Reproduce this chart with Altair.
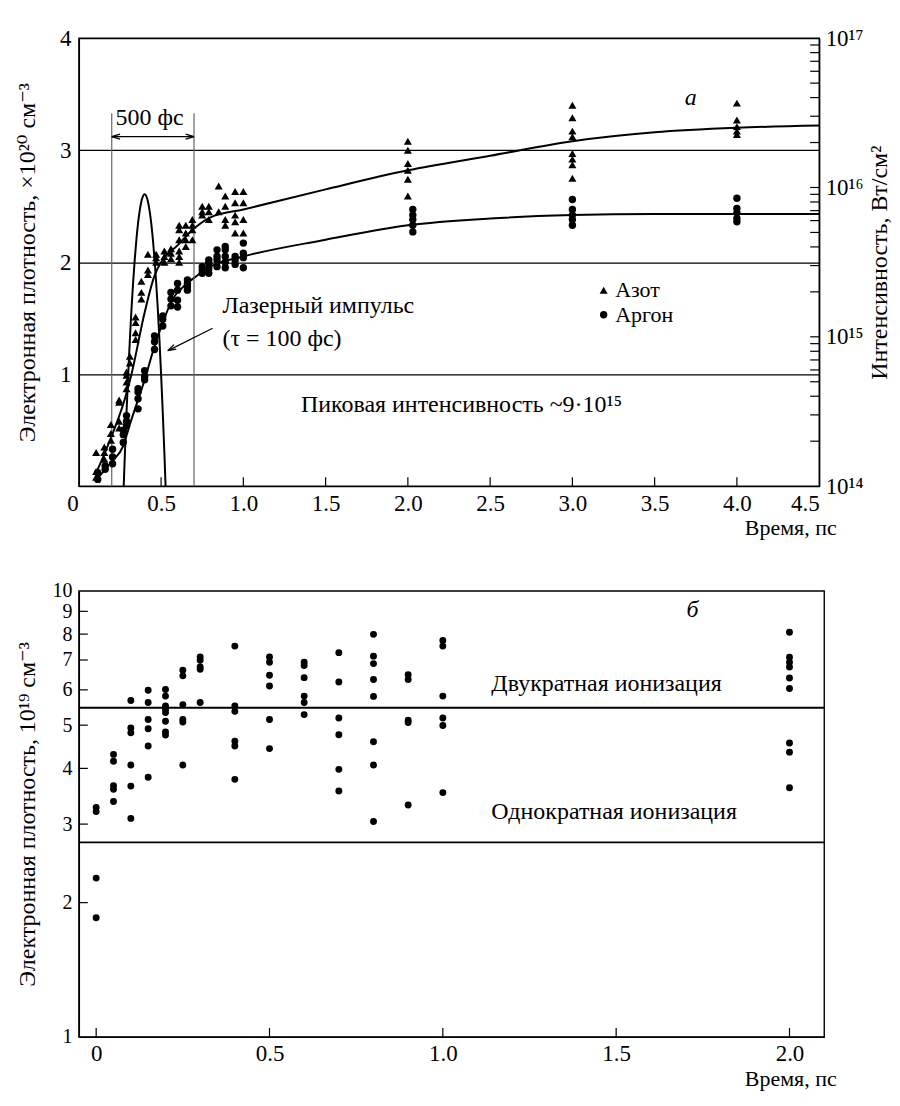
import altair as alt
import pandas as pd

FONT = "Liberation Serif, DejaVu Serif"
LBL = 23      # tick label size
TTL = 22      # x axis title size
YTTL = 24     # y axis title size
TXT = 24      # in-plot text size

# ---------------- Panel a (top) ----------------
# Nitrogen (triangles): time, ps / electron density, 1e20 cm^-3
n2_t = [0.105, 0.105, 0.105, 0.155, 0.155, 0.155, 0.195, 0.195, 0.195,
        0.245, 0.245, 0.245, 0.245, 0.29, 0.29, 0.29, 0.29, 0.31, 0.31,
        0.345, 0.345, 0.345, 0.345, 0.38, 0.38, 0.38, 0.42, 0.42, 0.42,
        0.47, 0.47, 0.47, 0.52, 0.52, 0.52, 0.56, 0.56, 0.56,
        0.61, 0.61, 0.61, 0.61, 0.61, 0.61, 0.65, 0.65, 0.65, 0.65,
        0.69, 0.69, 0.69, 0.69, 0.75, 0.75, 0.75, 0.79, 0.79, 0.79,
        0.85, 0.85, 0.89, 0.89, 0.89, 0.89, 0.95, 0.95, 0.95, 0.95, 0.95,
        1.0, 1.0, 1.0, 1.0,
        2.0, 2.0, 2.0, 2.0, 2.0, 2.0,
        3.0, 3.0, 3.0, 3.0, 3.0, 3.0, 3.0, 3.0,
        4.0, 4.0, 4.0, 4.0, 4.0]
n2_v = [0.08, 0.13, 0.30, 0.24, 0.30, 0.35, 0.41, 0.47, 0.55,
        0.52, 0.58, 0.75, 0.77, 0.87, 0.93, 0.99, 1.02, 1.10, 1.16,
        1.31, 1.37, 1.46, 1.51, 1.67, 1.73, 1.83, 1.89, 1.93, 2.07,
        2.00, 2.04, 2.07, 2.00, 2.05, 2.10, 2.03, 2.08, 2.12,
        2.00, 2.05, 2.10, 2.20, 2.29, 2.33, 2.14, 2.20, 2.26, 2.33,
        2.20, 2.29, 2.33, 2.38, 2.42, 2.45, 2.50, 2.38, 2.45, 2.50,
        2.45, 2.68, 2.33, 2.38, 2.50, 2.59, 2.26, 2.36, 2.42, 2.53, 2.63,
        2.26, 2.38, 2.53, 2.63,
        2.59, 2.74, 2.82, 2.88, 3.00, 3.08,
        2.75, 2.87, 2.92, 2.97, 3.12, 3.17, 3.29, 3.40,
        3.14, 3.17, 3.21, 3.27, 3.42]

# Argon (circles)
ar_t = [0.115, 0.115, 0.16, 0.16, 0.205, 0.205, 0.205, 0.27, 0.27, 0.27,
        0.29, 0.29, 0.29, 0.36, 0.36, 0.36, 0.36, 0.40, 0.40, 0.40,
        0.46, 0.46, 0.46, 0.51, 0.51, 0.51, 0.56, 0.56, 0.56,
        0.60, 0.60, 0.60, 0.60, 0.66, 0.66, 0.66, 0.66, 0.75, 0.75, 0.75,
        0.79, 0.79, 0.79, 0.79, 0.84, 0.84, 0.84, 0.84,
        0.89, 0.89, 0.89, 0.89, 0.89, 0.95, 0.95, 0.95, 1.0, 1.0, 1.0, 1.0,
        2.03, 2.03, 2.03, 2.03, 2.03, 3.0, 3.0, 3.0, 3.0, 3.0,
        4.0, 4.0, 4.0, 4.0, 4.0]
ar_v = [0.06, 0.12, 0.15, 0.18, 0.20, 0.26, 0.33, 0.39, 0.46, 0.50,
        0.54, 0.58, 0.63, 0.69, 0.78, 0.84, 0.87, 0.95, 0.98, 1.03,
        1.22, 1.29, 1.34, 1.43, 1.49, 1.52, 1.61, 1.67, 1.73,
        1.60, 1.66, 1.75, 1.81, 1.75, 1.78, 1.81, 1.84, 1.90, 1.93, 1.96,
        1.90, 1.94, 1.99, 2.02, 1.96, 2.02, 2.05, 2.11,
        1.95, 2.00, 2.05, 2.11, 2.14, 1.98, 2.02, 2.05, 1.95, 2.04, 2.08, 2.17,
        2.27, 2.33, 2.38, 2.42, 2.47, 2.33, 2.38, 2.42, 2.47, 2.56,
        2.36, 2.39, 2.44, 2.48, 2.57]

# fitted curves
n2_fit_t = [0.10, 0.20, 0.28, 0.32, 0.40, 0.46, 0.50, 0.60, 0.70, 0.80, 1.0,
            1.5, 2.0, 2.5, 3.0, 3.5, 4.0, 4.5]
n2_fit_v = [0.10, 0.45, 0.78, 1.00, 1.55, 1.88, 2.00, 2.15, 2.30, 2.40, 2.47,
            2.65, 2.82, 2.95, 3.08, 3.16, 3.20, 3.22]
ar_fit_t = [0.12, 0.20, 0.27, 0.31, 0.40, 0.45, 0.51, 0.57, 0.65, 0.71, 0.80,
            1.0, 1.5, 2.0, 2.5, 3.0, 3.5, 4.0, 4.5]
ar_fit_v = [0.08, 0.22, 0.36, 0.55, 0.95, 1.20, 1.46, 1.67, 1.80, 1.87, 1.96,
            2.05, 2.20, 2.33, 2.39, 2.42, 2.43, 2.43, 2.43]

# laser pulse, intensity W/cm^2 (right log axis)
pulse_t = [0.26, 0.27, 0.28, 0.29, 0.30, 0.31, 0.32, 0.33, 0.34, 0.35, 0.36,
           0.37, 0.38, 0.39, 0.40, 0.41, 0.42, 0.43, 0.44, 0.45, 0.46, 0.47,
           0.48, 0.49, 0.50, 0.51, 0.52, 0.53, 0.54]
pulse_i = [3.9e13, 8.3e13, 1.66e14, 3.14e14, 5.6e14, 9.5e14, 1.53e15, 2.31e15,
           3.32e15, 4.5e15, 5.77e15, 7.0e15, 8.05e15, 8.76e15, 9.0e15, 8.76e15,
           8.05e15, 7.0e15, 5.77e15, 4.5e15, 3.32e15, 2.31e15, 1.53e15, 9.5e14,
           5.6e14, 3.14e14, 1.66e14, 8.3e13, 3.9e13]

top_xticks = [0.5, 1.0, 1.5, 2.0, 2.5, 3.0, 3.5, 4.0]
top_xlabels = [0, 0.5, 1.0, 1.5, 2.0, 2.5, 3.0, 3.5, 4.0, 4.5]
right_major = [1e14, 1e15, 1e16, 1e17]
right_minor = [m * 10 ** e for e in (14, 15, 16) for m in range(2, 10)]
window_t = [0.2, 0.7]

# ---------------- Panel б (bottom) ----------------
b_t = [0, 0, 0, 0,
       0.05, 0.05, 0.05, 0.05, 0.05,
       0.1, 0.1, 0.1, 0.1, 0.1, 0.1,
       0.15, 0.15, 0.15, 0.15, 0.15, 0.15,
       0.2, 0.2, 0.2, 0.2, 0.2, 0.2, 0.2, 0.2,
       0.25, 0.25, 0.25, 0.25, 0.25, 0.25,
       0.3, 0.3, 0.3, 0.3, 0.3,
       0.4, 0.4, 0.4, 0.4, 0.4, 0.4,
       0.5, 0.5, 0.5, 0.5, 0.5, 0.5,
       0.6, 0.6, 0.6, 0.6, 0.6, 0.6,
       0.7, 0.7, 0.7, 0.7, 0.7, 0.7,
       0.8, 0.8, 0.8, 0.8, 0.8, 0.8, 0.8, 0.8,
       0.9, 0.9, 0.9, 0.9, 0.9,
       1.0, 1.0, 1.0, 1.0, 1.0, 1.0,
       2.0, 2.0, 2.0, 2.0, 2.0, 2.0, 2.0, 2.0, 2.0]
b_v = [3.27, 3.20, 2.27, 1.85,
       4.30, 4.15, 3.66, 3.59, 3.37,
       5.68, 4.93, 4.81, 4.07, 3.65, 3.09,
       5.99, 5.62, 5.15, 4.91, 4.49, 3.82,
       6.01, 5.81, 5.52, 5.43, 5.34, 5.10, 4.83, 4.75,
       6.64, 6.45, 5.56, 5.15, 5.08, 4.07,
       7.11, 6.99, 6.75, 6.67, 5.62,
       7.52, 5.52, 5.37, 4.60, 4.49, 3.78,
       7.11, 6.92, 6.47, 6.12, 5.15, 4.43,
       6.92, 6.80, 6.39, 5.81, 5.62, 5.28,
       7.27, 6.25, 5.19, 4.76, 3.98, 3.56,
       7.99, 7.14, 6.87, 6.33, 5.80, 4.59, 4.07, 3.04,
       6.49, 6.33, 5.13, 5.07, 3.31,
       7.74, 7.52, 5.81, 5.19, 4.99, 3.53,
       8.08, 7.10, 6.92, 6.75, 6.38, 6.04, 4.56, 4.35, 3.62]
ion_levels = [5.47, 2.73]
ion_labels = ["Двукратная ионизация", "Однократная ионизация"]
ion_label_v = [6.19, 3.2]
bottom_xticks = [0, 0.5, 1.0, 1.5, 2.0]
bottom_yticks = [2, 3, 4, 5, 6, 7, 8, 9]

W1, H1 = 742, 449
W2, H2 = 747, 447

# ---------- top panel ----------
xs_top = alt.Scale(domain=[0, 4.5], nice=False)
ys_left = alt.Scale(domain=[0, 4], nice=False)
ys_right = alt.Scale(type="log", domain=[1e14, 1e17], nice=False)

X_top = alt.X("t:Q", scale=xs_top, axis=alt.Axis(
    values=top_xlabels, ticks=False, grid=False,
    labelExpr="datum.value == 0 ? '0' : format(datum.value, '.1f')",
    labelOffset={"condition": {"test": "datum.value == 0", "value": -12}, "value": 0},
    labelPadding=6, titleFontSize=TTL,
    title="Время, пс", titleAnchor="end", titleAlign="right",
    titleX=W1 + 17, titleY=31, titleBaseline="top"))

df_n2 = pd.DataFrame({"t": n2_t, "v": n2_v})
df_ar = pd.DataFrame({"t": ar_t, "v": ar_v})
df_n2f = pd.DataFrame({"t": n2_fit_t, "v": n2_fit_v})
df_arf = pd.DataFrame({"t": ar_fit_t, "v": ar_fit_v})

base_left = alt.Chart(df_n2f).mark_line(color="black", strokeWidth=2, interpolate="monotone").encode(
    x=X_top,
    y=alt.Y("v:Q", scale=ys_left, axis=alt.Axis(
        values=[1, 2, 3, 4], format="d", ticks=False, grid=True, gridColor="black",
        gridWidth=1.2, gridOpacity=1, labelPadding=8, minExtent=30, maxExtent=30,
        titlePadding=9, titleFontSize=YTTL,
        title="Электронная плотность, ×10²⁰ см⁻³")))

# secondary layers: same scales, axis left unspecified (explicit axis of first layer wins)
def Yl():
    return alt.Y("v:Q", scale=ys_left)

def Xt():
    return alt.X("t:Q", scale=xs_top)

ar_fit = alt.Chart(df_arf).mark_line(color="black", strokeWidth=2, interpolate="monotone").encode(x=Xt(), y=Yl())
n2_pts = alt.Chart(df_n2).mark_point(shape="triangle-up", filled=True, color="black", size=65, opacity=1).encode(x=Xt(), y=Yl())
ar_pts = alt.Chart(df_ar).mark_circle(color="black", size=55, opacity=1).encode(x=Xt(), y=Yl())

df_win = pd.DataFrame({"t": window_t, "v": [0, 0], "v2": [3.33, 3.33]})
win_lines = alt.Chart(df_win).mark_rule(color="#666666", strokeWidth=1.2).encode(
    x=Xt(), y=Yl(), y2="v2:Q")

df_arrow = pd.DataFrame({"t": [window_t[0]], "t2": [window_t[1]], "v": [3.12]})
arrow_line = alt.Chart(df_arrow).mark_rule(color="black", strokeWidth=1.2).encode(
    x=Xt(), x2="t2:Q", y=Yl())
chev = "M 0 0 L 2 -0.6 M 0 0 L 2 0.6"
df_heads = pd.DataFrame({"t": window_t, "v": [3.12, 3.12], "ang": [0, 180]})
arrow_heads = alt.Chart(df_heads).mark_point(shape=chev, size=70, color="black", strokeWidth=1.3, filled=False, opacity=1).encode(
    x=Xt(), y=Yl(), angle=alt.Angle("ang:Q", scale=None))

df_pulse_arrow = pd.DataFrame({"t": [0.813], "t2": [0.545], "v": [1.41], "v2": [1.212]})
pulse_arrow = alt.Chart(df_pulse_arrow).mark_rule(color="black", strokeWidth=1.2).encode(
    x=Xt(), x2="t2:Q", y=Yl(), y2="v2:Q")
pulse_head = alt.Chart(pd.DataFrame({"t": [0.54], "v": [1.21], "ang": [333]})).mark_point(
    shape=chev, size=70, color="black", strokeWidth=1.3, filled=False, opacity=1).encode(
    x=Xt(), y=Yl(), angle=alt.Angle("ang:Q", scale=None))

texts_top = pd.DataFrame({
    "t": [0.43, 0.873, 0.873, 1.35],
    "v": [3.29, 1.61, 1.31, 0.72],
    "txt": ["500 фс", "Лазерный импульс", "(τ = 100 фс)",
            "Пиковая интенсивность ~9·10¹⁵"],
    "al": ["center", "left", "left", "left"],
})
legend_t = [3.26, 3.26]
legend_v = [1.75, 1.53]
legend_txt = ["Азот", "Аргон"]

txt_c = alt.Chart(texts_top[texts_top.al == "center"]).mark_text(
    font=FONT, fontSize=TXT, align="center", baseline="middle", color="black").encode(
    x=Xt(), y=Yl(), text="txt:N")
txt_l = alt.Chart(texts_top[texts_top.al == "left"]).mark_text(
    font=FONT, fontSize=TXT, align="left", baseline="middle", color="black").encode(
    x=Xt(), y=Yl(), text="txt:N")
txt_leg = alt.Chart(pd.DataFrame({"t": legend_t, "v": legend_v, "txt": legend_txt})).mark_text(
    font=FONT, fontSize=22, align="left", baseline="middle", color="black").encode(
    x=Xt(), y=Yl(), text="txt:N")
label_a = alt.Chart(pd.DataFrame({"t": [3.72], "v": [3.47], "txt": ["а"]})).mark_text(
    font=FONT, fontSize=TXT, fontStyle="italic", align="center", baseline="middle", color="black").encode(
    x=Xt(), y=Yl(), text="txt:N")
leg_tri = alt.Chart(pd.DataFrame({"t": [3.19], "v": [legend_v[0]]})).mark_point(
    shape="triangle-up", filled=True, color="black", size=65, opacity=1).encode(x=Xt(), y=Yl())
leg_cir = alt.Chart(pd.DataFrame({"t": [3.19], "v": [legend_v[1]]})).mark_circle(
    color="black", size=55, opacity=1).encode(x=Xt(), y=Yl())

xtick_top = alt.Chart(pd.DataFrame({"t": top_xticks})).mark_rule(color="black", strokeWidth=1.2).encode(
    x=Xt(), y=alt.value(H1), y2=alt.value(H1 - 9))

left_layer = alt.layer(base_left, ar_fit, win_lines, arrow_line, arrow_heads, pulse_arrow, pulse_head,
                       n2_pts, ar_pts, txt_c, txt_l, txt_leg, label_a, leg_tri, leg_cir, xtick_top)

df_pulse = pd.DataFrame({"t": pulse_t, "i": pulse_i})
pulse = alt.Chart(df_pulse).mark_line(color="black", strokeWidth=2, interpolate="monotone", clip=True).encode(
    x=Xt(),
    y=alt.Y("i:Q", scale=ys_right, axis=alt.Axis(
        orient="right", values=right_major, ticks=False, grid=False,
        labelExpr="'10' + ['¹⁴','¹⁵','¹⁶','¹⁷'][round(log(datum.value)/LN10) - 14]",
        labelPadding=6, labelAlign="left", titleAngle=270, titleFontSize=YTTL,
        titleX=60, titleY=H1 / 2, titleAlign="center", titleBaseline="middle",
        title="Интенсивность, Вт/см²")))
rticks = alt.Chart(pd.DataFrame({"i": right_minor + right_major[1:3]})).mark_rule(
    color="black", strokeWidth=1.2).encode(
    y=alt.Y("i:Q", scale=ys_right), x=alt.value(W1), x2=alt.value(W1 - 9))
right_layer = alt.layer(pulse, rticks)

top = alt.layer(left_layer, right_layer).resolve_scale(y="independent").properties(width=W1, height=H1)

# ---------- bottom panel ----------
xs_b = alt.Scale(domain=[-0.05, 2.1], nice=False)
ys_b = alt.Scale(type="log", domain=[1, 10], nice=False)

def Xb():
    return alt.X("t:Q", scale=xs_b)

def Yb():
    return alt.Y("v:Q", scale=ys_b)

df_b = pd.DataFrame({"t": b_t, "v": b_v})
b_pts = alt.Chart(df_b).mark_circle(color="black", size=48, opacity=1).encode(
    x=alt.X("t:Q", scale=xs_b, axis=alt.Axis(
        values=bottom_xticks, ticks=False, grid=False,
        labelExpr="datum.value == 0 ? '0' : format(datum.value, '.1f')",
        labelPadding=6, title="Время, пс", titleAnchor="end", titleAlign="right",
        titleFontSize=TTL, titleX=W2 + 12, titleY=32, titleBaseline="top")),
    y=alt.Y("v:Q", scale=ys_b, axis=alt.Axis(
        values=[1, 2, 3, 4, 5, 6, 7, 8, 9, 10], format="d", ticks=False, grid=False,
        labelOverlap=False, labelFontSize=20, labelPadding=7, minExtent=30, maxExtent=30,
        titlePadding=9, titleFontSize=YTTL, title="Электронная плотность, 10¹⁹ см⁻³")))
b_lines = alt.Chart(pd.DataFrame({"v": ion_levels})).mark_rule(color="black", strokeWidth=2).encode(y=Yb())
b_txt = alt.Chart(pd.DataFrame({"t": [1.14, 1.14], "v": ion_label_v, "txt": ion_labels})).mark_text(
    font=FONT, fontSize=TXT, align="left", baseline="middle", color="black").encode(x=Xb(), y=Yb(), text="txt:N")
b_label = alt.Chart(pd.DataFrame({"t": [1.72], "v": [9.05], "txt": ["б"]})).mark_text(
    font=FONT, fontSize=TXT, fontStyle="italic", align="center", baseline="middle", color="black").encode(
    x=Xb(), y=Yb(), text="txt:N")
b_xt = alt.Chart(pd.DataFrame({"t": bottom_xticks})).mark_rule(color="black", strokeWidth=1.2).encode(
    x=Xb(), y=alt.value(H2), y2=alt.value(H2 - 9))
b_yt = alt.Chart(pd.DataFrame({"v": bottom_yticks})).mark_rule(color="black", strokeWidth=1.2).encode(
    y=Yb(), x=alt.value(0), x2=alt.value(9))

bottom = alt.layer(b_pts, b_lines, b_txt, b_label, b_xt, b_yt).properties(width=W2, height=H2)

chart = alt.vconcat(top, bottom, spacing=41).properties(
    padding={"top": 17, "left": 7, "right": 0, "bottom": 0}
).configure_view(stroke="black", strokeWidth=1.4).configure_axis(
    labelFont=FONT, titleFont=FONT, labelFontSize=LBL, titleFontSize=TTL,
    titleFontWeight="normal", labelColor="black", titleColor="black",
    domainColor="black", domainWidth=1.4
)

chart.save("out.html", embed_options={"renderer": "svg", "actions": False})
